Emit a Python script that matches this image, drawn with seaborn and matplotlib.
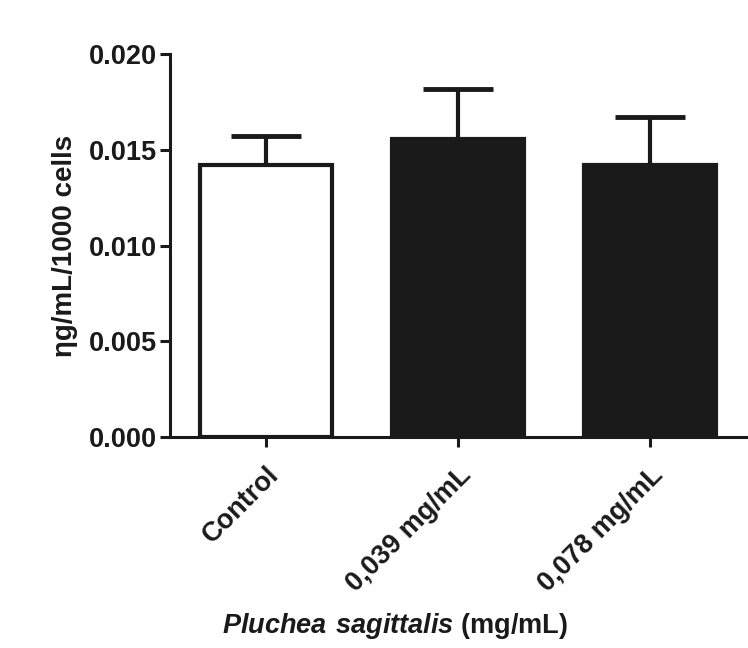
import numpy as np
import matplotlib
matplotlib.use("Agg")
import matplotlib.pyplot as plt
import seaborn as sns

groups = ["Control", "0,039 mg/mL", "0,078 mg/mL"]
means = [0.0142, 0.01555, 0.0142]
sem = [0.0015, 0.0026, 0.0025]
bar_colors = ["#ffffff", "#1a1a1a", "#1a1a1a"]
yticks = [0.000, 0.005, 0.010, 0.015, 0.020]

sns.set_style("ticks")
plt.rcParams['font.family'] = ['Liberation Sans', 'DejaVu Sans']
plt.rcParams['font.weight'] = 'bold'
plt.rcParams['mathtext.fontset'] = 'custom'
plt.rcParams['mathtext.bfit'] = 'Liberation Sans:italic:bold'

ink = "#1a1a1a"
fig = plt.figure(figsize=(7.48, 6.48), dpi=100)
ax = fig.add_axes([170 / 748, 1 - 437 / 648, 576 / 748, 383 / 648])

sns.barplot(x=groups, y=means, hue=groups, palette=bar_colors, legend=False,
            width=0.686, edgecolor=ink, linewidth=3, saturation=1, ax=ax)

centers = [p.get_x() + p.get_width() / 2 for p in ax.patches]
ax.errorbar(centers, means, yerr=[np.zeros(len(sem)), sem], fmt="none",
            ecolor=ink, elinewidth=3, capsize=25, capthick=3.5, zorder=0.9)

ax.set_xlim(-0.5, 2.5)
ax.set_ylim(0, 0.020)
ax.set_yticks(yticks)
ax.set_yticklabels([f"{t:.3f}" for t in yticks])

sns.despine(ax=ax)
for s in ["left", "bottom"]:
    ax.spines[s].set_linewidth(2.2)
    ax.spines[s].set_color(ink)
ax.tick_params(axis="both", width=2.2, length=7, color=ink, labelcolor=ink)
ax.tick_params(axis="y", labelsize=19.5, pad=2)
ax.tick_params(axis="x", labelsize=19.5, pad=11)
plt.setp(ax.get_xticklabels(), rotation=45, ha="right", rotation_mode="anchor",
         fontweight="bold")
plt.setp(ax.get_yticklabels(), fontweight="bold")

ax.set_ylabel("ηg/mL/1000 cells", fontsize=20, fontweight="bold", color=ink, labelpad=8)
ax.set_xlabel(r"$\mathbfit{Pluchea\ sagittalis}$ (mg/mL)", fontsize=19.5,
              fontweight="bold", color=ink)
ax.xaxis.set_label_coords(0.39, -0.455)

fig.savefig("out.png", dpi=100, facecolor="white")
